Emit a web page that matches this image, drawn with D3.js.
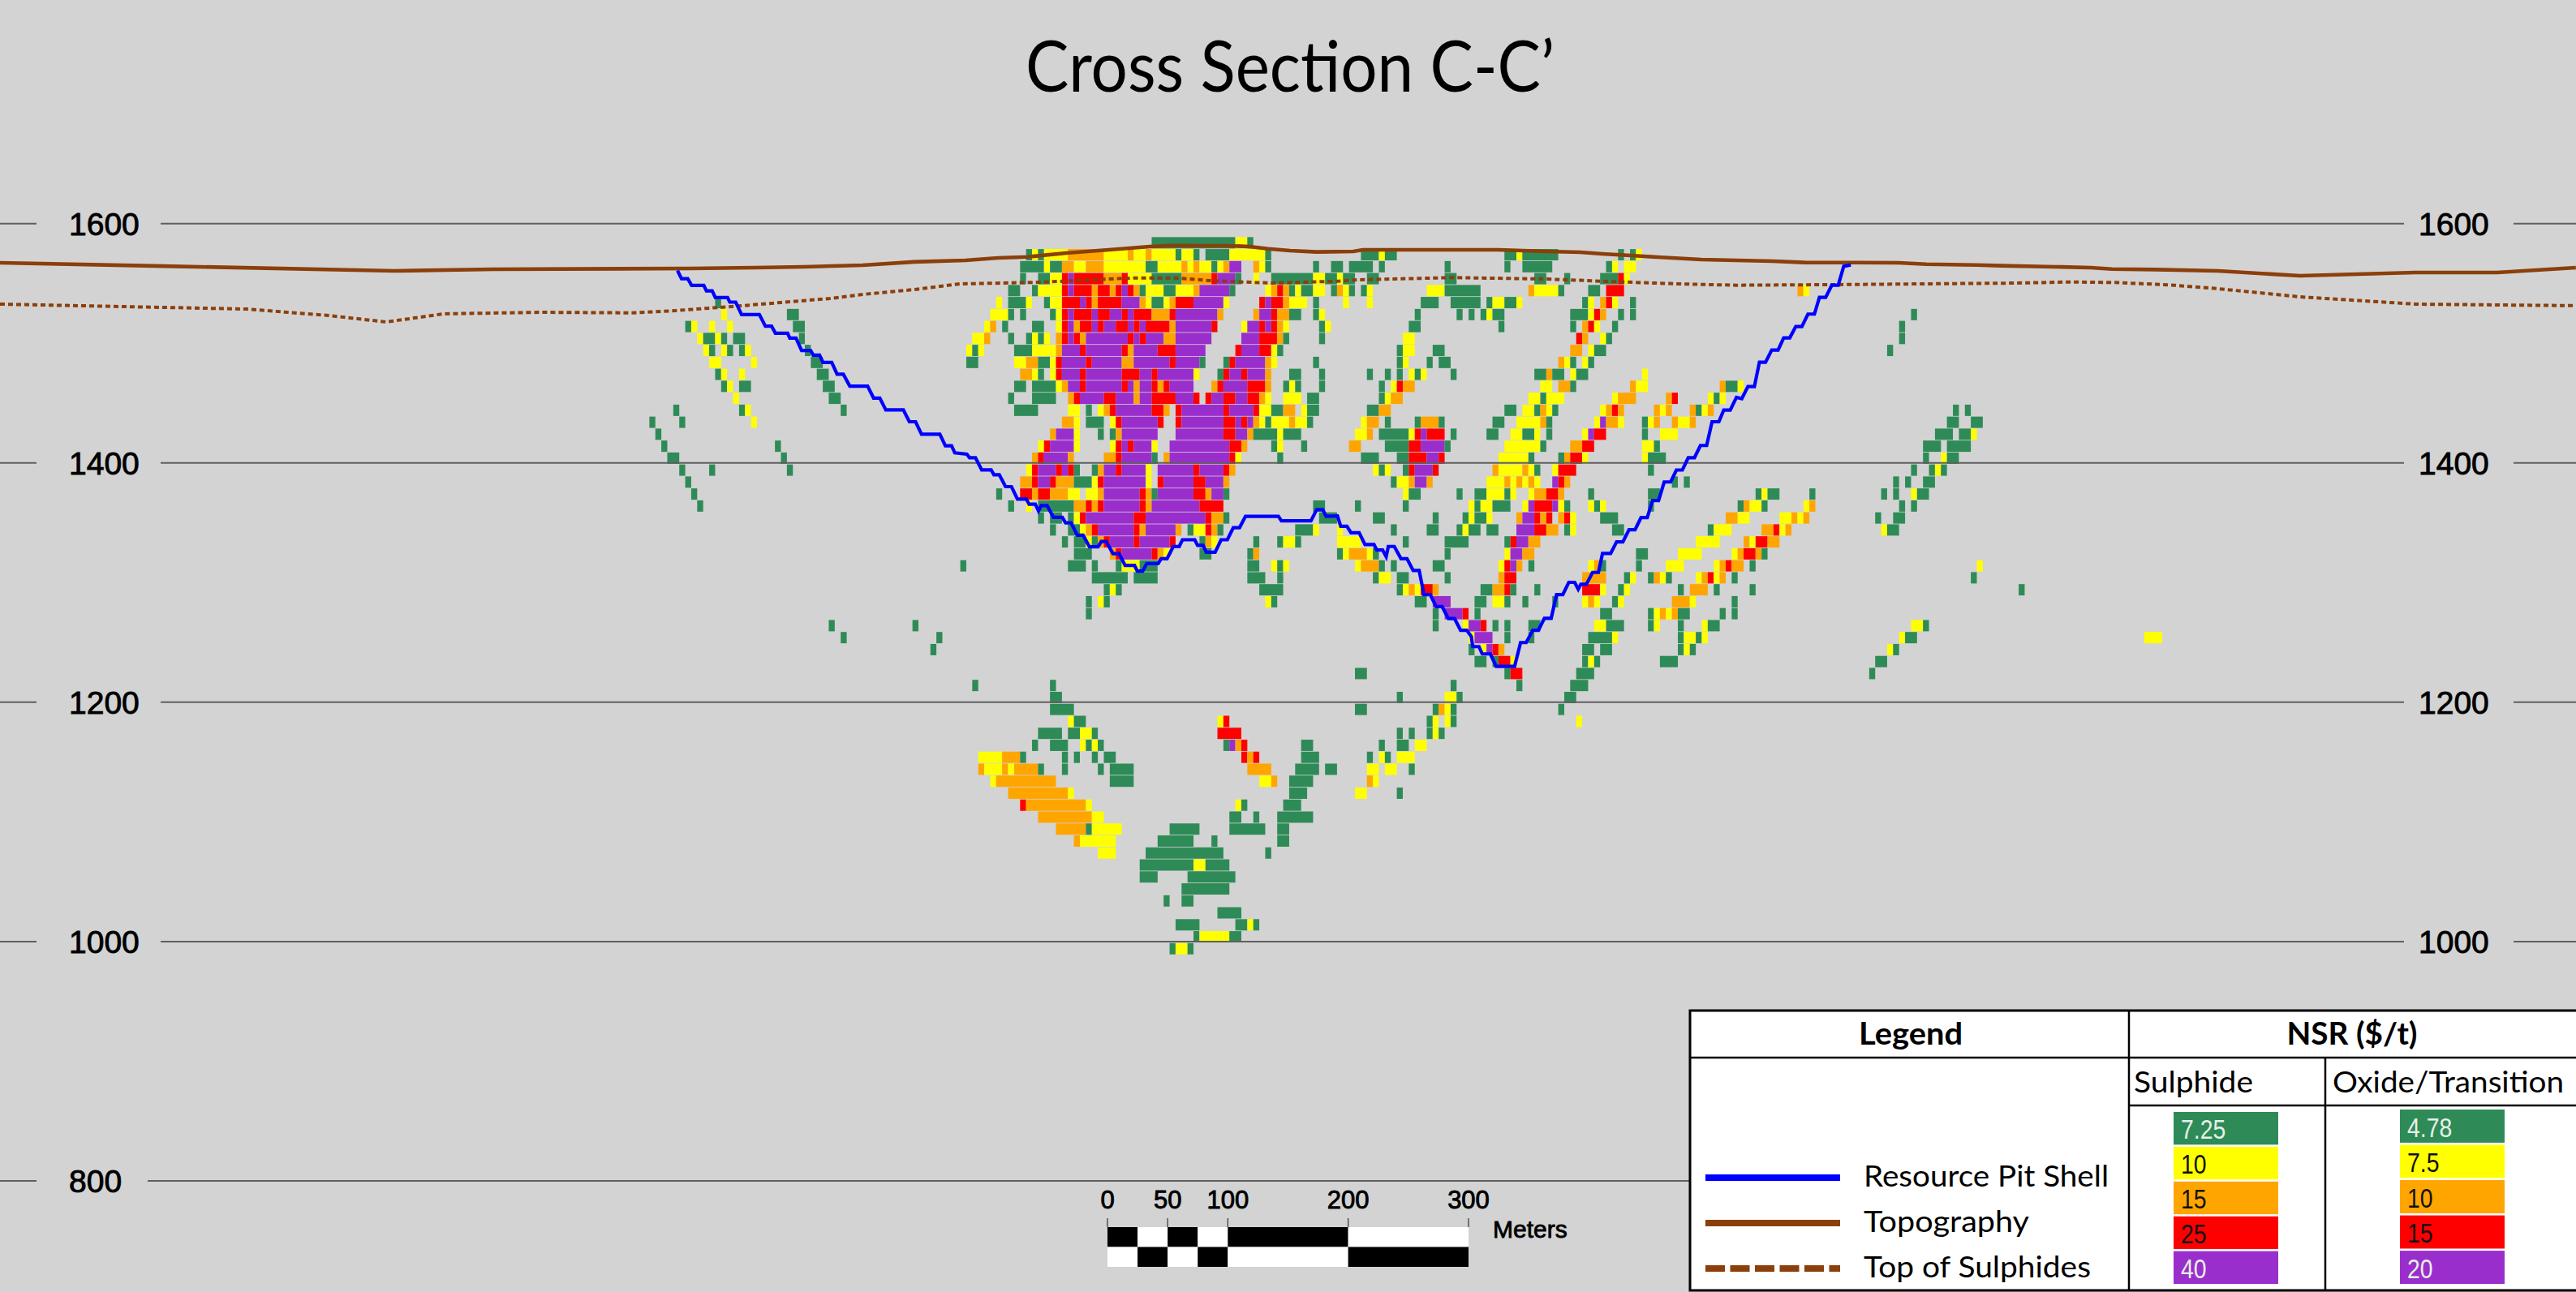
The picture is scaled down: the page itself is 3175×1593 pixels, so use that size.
<!DOCTYPE html>
<html>
<head>
<meta charset="utf-8">
<title>Cross Section C-C'</title>
<script src="https://cdn.jsdelivr.net/npm/d3@7/dist/d3.min.js"></script>
<style>
  body { margin: 0; background: #d3d3d3; }
  svg { display: block; }
</style>
</head>
<body>
<script>
//** Chart values.
var yTicks = [1600, 1400, 1200, 1000, 800];

// ** NSR classes of the block model
var blockClasses = ['G', 'Y', 'O', 'R', 'P'];
var blockColors = ['#2e8b57', '#ffff00', '#ffa500', '#ff0000', '#9a2ecc'];

// ** Blocks are 5 m wide and 10 m high. Each row is [centre elevation, runs],
// ** a run is class + first block + last block along the section.
var blockRows = [
  [1584, 'G192-205 Y206-207 G208'],
  [1574, 'G171 Y172 G173 Y174-177 O178-183 Y184-187 O188 Y189-190 O191 Y192-195 G196 Y197-198 G199 G201-204 Y205-210 G211 G227-229 Y230 G231-232 G251-252 Y253 G254-259 G270 G272 Y273'],
  [1564, 'G170-173 Y174 G175-176 O177-178 Y179-180 O181-183 Y184-190 G191-192 Y193-196 O197 Y198 O199 Y200-201 G202 Y203 O204 P205-206 O209 Y210 G211 G219 G222-223 G225-228 G230 G241 G251 G254-258 G268 Y269 Y271-272'],
  [1554, 'G170 G173-174 Y175-176 R177 P178 R179-183 O184-186 R187 Y188-191 G192-196 O197-201 R202 P203-205 G206 Y209 G212-218 Y219-220 G221-222 Y223 G224-225 G228-229 G241-242 G256-257 G261 G267-269 R270 Y271'],
  [1544, 'G168-169 G172 Y173-176 R177 P178 R179-181 O182 R183-184 O185 R186 P187 R188 O189 G190 Y191-193 G194-195 Y196-198 O199 P200-204 G205 Y211 O212 R213 O214 G215 Y216 G217-218 Y219-220 G222 O223 Y224 G225 G227 Y228 Y238-240 G241-246 O255 Y256-259 G260 G265-266 R268-270 O300 Y301'],
  [1534, 'G119 Y166 G168-170 Y171 G174 Y175-176 R177-179 P180 R181 O182 R183-186 P187-189 O190 Y191 G192-193 Y194 O195 R196-198 P199-203 Y204 R210 P211 R212-213 O214 Y215-217 G219 Y224 Y228 G237-239 G242-246 G248 Y249-250 G251-252 Y253 G264 Y265 O267 R268 Y269 G272'],
  [1524, 'Y120 G131-132 Y165-167 G168 G170 G175 Y176 R177 P178 R179-181 P182 R183-184 P185-186 R187 P188 R189-191 O192-194 R195 P196-202 O203 O209 P210-211 R212 O213-214 G215-216 G219 Y220 G236 G243 G245 G247 Y248 G249-250 G262-264 Y265 R266 O267 G270 G272 G319'],
  [1514, 'G114 Y115 Y118 Y121 G132-133 Y164 O165 G167 G172-173 Y176 R177 P178 O179 R180-181 P182 R183 P184-185 R186-187 P188 R189 P190 R191-194 O195 P196-201 R202 Y207 P208-209 R210 P211 R212 O213 Y214 G220 Y221 G235-236 G250 G262 O264 R265 Y266 G269 G317'],
  [1504, 'Y116 G117-118 Y119 G120 G122-123 G133 Y162-163 O164 G168 G171 Y172 G173 Y174 O176 R177 P178 R179 O180 P181-187 R188 P189 R190 P191-193 O194-195 P196-201 P207-209 R210-212 O213 G214 G220 Y234-235 R263 O264 Y267 G268 G317'],
  [1494, 'Y117 G118 Y120 G121 G123 Y124 G134 Y161 G162 Y163 G169-171 Y172-175 O176 P177-179 R180 P181-186 R187 O188 P189-192 R193-195 P196-200 R206 P207-209 R210-211 Y212 G213 G233 Y234-235 G239-240 O262-263 Y265 G266-267 G315'],
  [1484, 'Y118-119 Y125 G135-136 G161-162 Y169-170 O171-172 G173-174 Y175 R176 P177-180 R181 P182-186 O187-188 P189-194 R195 P196-199 G200 G204 R205 P206-210 O211 Y212 G219 G233 Y234 G238 G240-241 O260 Y261 G262 Y264 G265'],
  [1474, 'G119 Y120 Y123 G136-137 O170-171 Y172 G173 Y175 R176 P177-179 R180 P181-186 R187-189 P190-191 R192 P193-198 Y199 G203 R204 P205-206 R207 P208-210 O211 G215-216 G220 G228 G231 G233 Y235 G236 Y237 G242 G256-257 O258 G259-260 Y262 G263-264 Y274'],
  [1464, 'G120 Y121 G123-124 G137-138 G169-170 G172-175 Y176 O177 P178-179 R180 P181-186 R187 P188 O189 P190-191 R192 O193 R194 P195-198 O202 R203 P204-207 R208-210 O211 G214 Y215 G216 G220 G230 Y232 R233 O234-235 Y257-258 O260-261 G262 O272 Y273-274 O287 G288-289 Y290'],
  [1454, 'Y122 G138-139 G168 G172-175 O178 R179 P180-183 R184-185 P186-188 O189 P190-191 R192-195 P196-198 R199 R201 P202-203 R204-205 P206-207 R208-209 O210 Y211 Y214-216 G218-219 G230 Y231 O232-233 Y255-256 G257 Y258-260 Y269 O270-272 O278 R279 Y285 G286 Y287'],
  [1444, 'G112 G123 Y124 G140 G169-172 Y178-179 G181 Y183 O184 R185 P186-191 R192-193 O194 R196 P197-203 R204 P205-208 R209 Y210-211 G212-213 O214-215 Y217 G218-219 G228-229 O230-231 G251-252 Y254-255 G256 O257 Y258 G259 Y267 O268 R269 O270 O276 Y277 O278 O282 G283 Y284 O285 G326 G328'],
  [1434, 'G108 G113 Y125 O177-178 Y179 G181-183 Y185 R186 P187-192 R193 R196 P197-203 R204-205 P206 R207 P208 O209 Y210 G211 Y212-214 O215 Y216-217 G218 Y227 O228-229 G231 G236 O237-239 G240 G249-250 Y253-256 O257 G258 Y266 P267 O268-269 Y270 G274 Y275 O276 O279 Y280-281 O282 G325-326 G329-330'],
  [1424, 'G109 O175 P176-178 Y179 G183 G185 O186 P187-192 P196-203 R204-205 P206-207 O208 G209-212 Y213 G214-216 Y226-227 O228 G230-234 Y235 R236 P237 R238-240 G242 G248-249 Y252-253 G254-255 Y256 G258 Y264 P265 R266-267 G274 Y277-279 G323-325 G327-328 Y329'],
  [1414, 'G110 G129 Y173 R174 P175-178 Y179 Y185 R186 P187 R188 P189-191 Y192 P195-204 R205-206 O207 G212 Y213 G217 O225-226 G231-234 R235-236 P237-240 G241 Y251-256 G257 O262-263 R264-265 Y274-275 G276 G321-323 G325-328'],
  [1404, 'G111-112 G130 O172 R173 P174-177 O178 O184-185 R186 P187-191 G192 O194 P195-204 R205 Y206 G213 G227-229 G233-234 R235-237 P238-239 R240 Y250-254 G255 G260 O261 R262-263 Y264 Y274 G275-277 G321 Y324 G325-326'],
  [1394, 'G113 G118 G131 Y171 R172 P173-175 R176 P177 R178 G179 G182 O183 P184-185 R186 P187-190 Y191 P193-198 R199 P200-203 R204 O205 Y229 G230 Y231 G234 R235 P236-238 R239 O249 Y250-253 O254 Y255 G256 Y259 R260-262 G275 G319 G322 Y323 G324'],
  [1384, 'G114 O170-171 R172 P173-174 R175 O176-178 G179-181 Y182 R183 P184-190 Y191 R193 P194-198 R199-200 P201-203 O204 G232 Y233-234 O235 P236-237 O238 Y248-250 O251 Y252 O253 Y254 O255 Y256 P259 R260 O261 G279 G281 G316 G318 G321-322'],
  [1374, 'G115 G166 R170-171 O172 R173-174 O175-177 Y178-179 Y181-182 O183 P184-189 R190 O191 G192 P193-198 R199-200 O201 P202-203 G204 Y234 G235-236 G243 G246-247 Y248-250 G251 Y252 Y255 O256-257 R258-259 O260 G265 G275-276 G293 Y294 G295-296 G302 G314 G316 Y319 G320-321'],
  [1364, 'G116 G168 Y171 G173-178 O179-180 R181 O182 R183 P184-189 R190 O191 P192-199 R200-203 G219-220 G226 G234 Y245 G246 Y247-248 G249-251 Y254 P255 R256-258 P259 Y260 G261 Y265 G266 Y267 G275 G290 O291 Y292-293 G294 Y301 O302 G317 G319'],
  [1354, 'G173 G175-176 G178 Y179 R180 P181-188 R189-190 P191-200 R201 O202-203 G204 G220-222 G229-230 G239 G244 Y245 G246-247 Y248 O253 P254-255 R256 O257 R258 O260 R261 Y262 G267-269 O288-289 Y290-291 Y297-298 O299 Y300 O301 G313 G316-317'],
  [1344, 'G175 G178-179 Y180 O181 R182 P183-188 R189 O190 P191-195 O196 G198 Y199-200 R201 O202 G203 G216-218 Y219 Y223 G232 G238-239 G243 Y244 G245-246 G248-249 P253-255 R256-257 O258-259 G261 Y262 G269-270 G285 Y286-288 O294-295 R296 Y297 O298 Y314 G315-316'],
  [1334, 'G177 G179-180 Y181 G182 O183 R184 P185-188 R189 P190-194 R195 G200 O201 Y202 G209 G213 Y214-215 G216 Y223-226 G234 G241-244 G251 R252 P253-254 O255-256 Y283-286 O291 Y292 R293-294 O295-296'],
  [1324, 'G179-181 O185 R186 P187-191 R192 O193 Y194 G200-201 G208 O209 G223 Y224 O225-227 Y228 G229 G241 Y251 P252-253 O254-255 G273-274 Y280-283 Y289 O290 R291-292 O293 G294'],
  [1314, 'G160 G178-180 G182 G186 Y187-189 G190-192 G208-209 Y212 G213 Y214 Y226 O227-229 G230 G232 G239-240 Y250 R251 P252 O253 G255 Y265 O266 G267 G273 Y278-280 Y286 O287 R288 O289-290 G292 Y330'],
  [1304, 'G182-187 G189-192 G208-210 G213 G229 Y230-231 G233-234 G241 O250 R251-252 O264-267 G271 Y272 G275 O276 Y277 G278 Y283 O284 R285 Y286 O287 G289 G329'],
  [1294, 'G184 Y185 G186 G210-213 G233 Y234 O235 Y236 R237-238 O239 G247-248 O249-250 R251 G252 G256 R264-266 Y267 G270 Y271 G280 O282-284 G286 G292 G337'],
  [1284, 'G181 Y183 G184 Y211 G212 G236-237 P239-241 G246-247 Y249-250 G251 G254 G259 Y264 O265 Y266 G269 Y270 O279-281 Y282 G289'],
  [1274, 'G181 G239 P241-243 R244 G246 G267-268 G275 Y276 O277 Y278 O279 G280-281 G287 G289'],
  [1264, 'G138 G152 G239 Y244 P245-246 R247 G249 G251 G255-256 Y266-267 G268-270 G275 Y276 G280 Y284 G285-286 Y319-320 G321'],
  [1254, 'G140 G156 Y245 P246-248 G251 G255 G265-268 Y269 G280 Y281-282 G283 Y284 Y317 G318-319 Y358-360'],
  [1244, 'G155 G245 Y247 P248 R249 O250 G264-265 G267-268 G280 Y281 G282 Y315 G316'],
  [1234, 'G246-247 G249 R250-251 Y252 G264 Y265 G266 G277-279 G313-314'],
  [1224, 'G226-227 G251 R252-253 G263-265 G312'],
  [1214, 'G162 G175 G242 G253 G262-264'],
  [1204, 'G175-176 G233 Y241-242 G243 G261-262'],
  [1194, 'G175-178 G226-227 G239 O240 Y241 G242 G260'],
  [1184, 'Y178 G179-180 Y203 R204 G238 Y239 Y241 G242 Y263'],
  [1174, 'G173-176 G178-179 Y180-181 G182 R203-206 G233 G235 G238 Y239 G240'],
  [1164, 'G172 G175-177 Y180 G181 Y182 G183 G204 P205 O206 R207 G217-218 G230 G233-234 Y236-237'],
  [1154, 'Y163-166 O167-169 G170 G177 G179 G182 G184-185 R207 O208 R209 G217-219 G228 Y230 G231 Y233-235'],
  [1144, 'O163 Y164-166 O167 Y168 O169-172 G173 G177 G183 G185-188 O208-211 G216-219 G221-222 Y228-229 Y231-232 G235'],
  [1134, 'Y165 O166-175 G185-188 Y210-211 O212 G215-218 O228 Y229'],
  [1124, 'O168-177 Y178 G215-217 Y226-227 G233'],
  [1114, 'R170 O171-180 Y181 Y206 G207 G214-216'],
  [1104, 'O173-181 Y182-183 G205-206 G209 G213-218'],
  [1094, 'O176-180 G181 Y182-186 G195-199 G205-210 G213-214'],
  [1084, 'O179 Y180-185 G193-198 G202 G213-214'],
  [1074, 'Y183-185 G191-203 G211'],
  [1064, 'G190-198 Y199-200 G201-204'],
  [1054, 'G190-192 G198-205'],
  [1044, 'G197-204'],
  [1034, 'G194 G197-198'],
  [1024, 'G203-206'],
  [1014, 'G196-199 G206-207 Y208 G209'],
  [1004, 'G199 Y200-204 G205-206'],
  [994, 'G195 Y196-197 G198']
];

// ** Lines: [metres along section, elevation]
var topography = [
  [-3,1567.3],[134,1564.5],[327,1560.5],[409.5,1561.8],[573.7,1562.5],[628,1563.2],[669,1563.9],[718.2,1565.2],
  [761.6,1568],[804.3,1569.3],[831.4,1571.3],[856.5,1572.2],[890.5,1575.6],[926.4,1578.3],[958.3,1580.8],[975.9,1581.7],
  [1023.4,1581.5],[1041.8,1580.8],[1057.3,1579],[1075.7,1577.4],[1098,1576.3],[1128.6,1576.8],[1136.7,1578.1],[1194.4,1578.1],
  [1250,1578.1],[1290.7,1576.8],[1318.5,1576.1],[1336.8,1574.7],[1360.6,1573.4],[1382.9,1572],[1419.6,1570],[1448.8,1569.3],
  [1479.3,1568.6],[1505.8,1567.5],[1584.5,1567.3],[1607.6,1566.1],[1649.6,1565.4],[1670.6,1564.8],[1715.4,1563.9],[1745.3,1563.2],
  [1762.9,1562],[1799.6,1561.6],[1851.8,1560.5],[1920.3,1556.4],[2016.7,1559.1],[2085.2,1559.1],[2150.9,1563.2]
];

var topOfSulphides = [
  [-3,1532.7],[203.2,1528.6],[271.8,1523.2],[320,1517.8],[368.1,1524.6],[450.2,1525.9],[526.2,1525.4],[562.1,1527.3],
  [616.4,1531.3],[650.3,1534.1],[691,1537.4],[718.2,1540.8],[761.6,1544.9],[799.6,1549.6],[867.4,1551],[944.7,1554.6],
  [980.7,1554.6],[1007.8,1552.4],[1060,1550.3],[1116.4,1551.9],[1132,1553],[1211.3,1554.9],[1290.7,1553.7],[1335.5,1551.9],
  [1401.3,1549.6],[1448.8,1548.5],[1530.2,1549],[1682.1,1550.3],[1726.9,1551.2],[1766.3,1550.8],[1815.1,1548.5],[1851.8,1545.6],
  [1920.3,1538.8],[2016.7,1532.7],[2150.9,1531.4]
];

var pitShell = [
  [563.5,1560.8],[566.9,1554],[572.1,1554],[575.3,1548.4],[585.5,1548.4],[587.7,1543.8],[592.5,1543.8],[595.2,1538.2],
  [605.4,1538.2],[607.2,1534.4],[612.2,1534.4],[617.1,1524],[632,1524],[637,1514.3],[642.2,1514.3],[645.4,1508.4],
  [655.6,1508.4],[657.4,1504.3],[662.6,1504.3],[667.3,1494],[674.8,1494],[677.1,1490.1],[682.3,1490.1],[685.2,1484],
  [692.5,1484],[697,1474.1],[702.2,1474.1],[707.6,1464.2],[722.5,1464.2],[727.5,1454.2],[732.7,1454.2],[737.7,1444.3],
  [752.4,1444.3],[757.4,1434.4],[762.6,1434.4],[767.6,1424],[782.9,1424],[787.5,1414.3],[792.7,1414.3],[795.4,1408.4],
  [805.5,1407.3],[807.7,1404.4],[812.7,1404.4],[817.9,1394.2],[825.8,1394.2],[828.1,1390.1],[832.6,1390.1],[837.8,1380.2],
  [842.8,1380.2],[847.8,1369.8],[855.2,1369.8],[857.5,1365.5],[862.7,1365.5],[865.4,1359.9],[867.7,1364.4],[872.6,1364.4],
  [877.9,1354.5],[885.3,1354.5],[888,1350],[892.6,1350],[897.8,1339.6],[902.7,1339.6],[908,1329.9],[915.2,1329.9],
  [917.9,1334.4],[922,1334.4],[927.6,1324.2],[932.8,1324.2],[937.8,1314.3],[945.7,1314.3],[948,1309.6],[952.5,1309.6],
  [955.9,1315.9],[965.4,1315.9],[967.9,1320],[972.9,1320],[978.1,1330.1],[983,1330.1],[985.8,1335.8],[996,1335.8],
  [998.4,1331.2],[1003,1331.2],[1005.7,1325.4],[1013.1,1325.4],[1018.1,1335.8],[1023.3,1335.8],[1028.3,1345.9],[1033.5,1345.9],
  [1038.5,1355.4],[1066,1355.4],[1068.5,1351.6],[1093.2,1351.6],[1098,1361],[1103,1361],[1105.9,1355.4],[1115.4,1355.7],
  [1118.1,1347.1],[1123.3,1347.1],[1126.7,1341.7],[1133.5,1341.7],[1138.4,1331.8],[1145.9,1331.8],[1148.2,1327.3],[1153.1,1327.3],
  [1156.1,1321.6],[1157.9,1330.2],[1162.9,1330.2],[1168.5,1320],[1173.5,1320],[1178.7,1310.1],[1183.7,1310.1],[1187.7,1290],
  [1192.9,1290],[1197.9,1279.9],[1202.9,1279.9],[1208.1,1269.9],[1213.3,1269.9],[1218.3,1260.2],[1223.5,1260.2],[1227.3,1255],
  [1228.5,1246.5],[1233.7,1246.5],[1236.4,1240.4],[1243.2,1240.4],[1248.1,1230],[1263.5,1230],[1268.5,1249.9],[1273.2,1249.9],
  [1278.7,1260.2],[1283.4,1260.2],[1288.4,1270.2],[1294.1,1270.2],[1298.6,1290],[1303.8,1290],[1308.8,1300.2],[1313.7,1300.2],
  [1316.7,1294.5],[1318.9,1298.6],[1323.5,1298.6],[1328.7,1308.5],[1333.6,1308.5],[1337,1324.3],[1343.8,1324.3],[1348.8,1334],
  [1354,1334],[1359.2,1344.2],[1364.2,1344.2],[1369.2,1354.3],[1374.4,1354.3],[1378.9,1368.6],[1383.9,1368.6],[1388.6,1384.1],
  [1394,1384.1],[1398.8,1394.1],[1403.8,1394.1],[1408.7,1404.4],[1413.9,1404.4],[1418.9,1414.6],[1424.1,1414.6],[1428.6,1434.4],
  [1434.3,1434.4],[1438.4,1444.2],[1443.8,1444.2],[1449,1454.8],[1453.5,1453.7],[1458.6,1463.8],[1464,1463.8],[1468.2,1484.1],
  [1473.3,1484.1],[1478.5,1494.3],[1483.8,1494.3],[1488.5,1504.5],[1493.6,1504.5],[1498.6,1514],[1503.7,1514],[1508.8,1524.4],
  [1514.2,1524.4],[1518.4,1538.4],[1523.6,1538.4],[1528.7,1548.5],[1534.1,1548.5],[1538.7,1564.3],[1544.6,1565.5]
];

// ** Legend and scale bar values
var lineNames = ['Resource Pit Shell', 'Topography', 'Top of Sulphides'];
var sulphideLabels = ['7.25', '10', '15', '25', '40'];
var oxideLabels = ['4.78', '7.5', '10', '15', '20'];
var scaleBreaks = [0, 25, 50, 75, 100, 200, 300];
var scaleLabels = [0, 50, 100, 200, 300];

var width = 3175, height = 1593;
var brown = '#8b3f0a';

var svg = d3.select('body').append('svg')
    .attr('width', width)
    .attr('height', height)
    .style('font-family', '"Liberation Sans", Arial, sans-serif');

svg.append('rect').attr('width', width).attr('height', height).attr('fill', '#d3d3d3');

var x = d3.scaleLinear().domain([0, 2150]).range([4.4, 4.4 + 2150 * 1.474]);
var y = d3.scaleLinear().domain([1600, 800]).range([275.7, 1456]);
var color = d3.scaleOrdinal().domain(blockClasses).range(blockColors);

//** Title
svg.append('text')
    .attr('x', 1590).attr('y', 113)
    .attr('text-anchor', 'middle')
    .attr('textLength', 652).attr('lengthAdjust', 'spacingAndGlyphs')
    .style('font-family', 'Lato')
    .style('font-size', '88px')
    .text('Cross Section C-C\u2019');

//** Unpack the rows into runs of blocks
var blocks = [];
blockRows.forEach(function(row){
  row[1].split(' ').forEach(function(run){
    var ends = run.slice(1).split('-');
    var first = +ends[0];
    var last = ends.length > 1 ? +ends[1] : first;
    blocks.push({cls: run[0], z: row[0], from: first * 5, to: (last + 1) * 5});
  });
});

svg.append('g').selectAll('rect')
    .data(blocks)
  .enter().append('rect')
    .attr('x', function(d){ return x(d.from); })
    .attr('y', function(d){ return y(d.z + 5) + 0.4; })
    .attr('width', function(d){ return x(d.to) - x(d.from); })
    .attr('height', function(d){ return y(d.z - 5) - y(d.z + 5) - 0.8; })
    .attr('fill', function(d){ return color(d.cls); });

//** Elevation grid lines and labels
var grid = svg.append('g').selectAll('g')
    .data(yTicks)
  .enter().append('g')
    .attr('transform', function(d){ return 'translate(0,' + y(d) + ')'; });

grid.append('line')
    .attr('x1', 0).attr('x2', 45)
    .attr('stroke', '#5f5f5f').attr('stroke-width', 2);

grid.append('line')
    .attr('x1', function(d){ return d === 800 ? 182 : 198; })
    .attr('x2', function(d){ return d === 800 ? 2082 : 2963; })
    .attr('stroke', '#5f5f5f').attr('stroke-width', 2);

grid.filter(function(d){ return d !== 800; }).append('line')
    .attr('x1', 3098).attr('x2', width)
    .attr('stroke', '#5f5f5f').attr('stroke-width', 2);

grid.append('text')
    .attr('x', 85).attr('dy', 14)
    .style('font-size', '39px')
    .style('stroke', '#000').style('stroke-width', 0.9)
    .text(function(d){ return d; });

grid.filter(function(d){ return d !== 800; }).append('text')
    .attr('x', 2981).attr('dy', 14)
    .style('font-size', '39px')
    .style('stroke', '#000').style('stroke-width', 0.9)
    .text(function(d){ return d; });

//** Section lines
var line = d3.line()
    .x(function(d){ return x(d[0]); })
    .y(function(d){ return y(d[1]); });

svg.append('path').datum(topOfSulphides)
    .attr('d', line).attr('fill', 'none')
    .attr('stroke', brown).attr('stroke-width', 4)
    .attr('stroke-dasharray', '6,4');

svg.append('path').datum(topography)
    .attr('d', line).attr('fill', 'none')
    .attr('stroke', brown).attr('stroke-width', 4.6);

svg.append('path').datum(pitShell)
    .attr('d', line).attr('fill', 'none')
    .attr('stroke', '#0000ff').attr('stroke-width', 4.2);

//** Scale bar
var barX = d3.scaleLinear().domain([0, 300]).range([1365, 1810]);
var bar = svg.append('g');

bar.selectAll('rect.top')
    .data(d3.pairs(scaleBreaks))
  .enter().append('rect')
    .attr('x', function(d){ return barX(d[0]); })
    .attr('y', 1513)
    .attr('width', function(d){ return barX(d[1]) - barX(d[0]); })
    .attr('height', 24.5)
    .attr('fill', function(d, i){ return i % 2 ? '#fff' : '#000'; });

bar.selectAll('rect.bottom')
    .data(d3.pairs(scaleBreaks))
  .enter().append('rect')
    .attr('x', function(d){ return barX(d[0]); })
    .attr('y', 1537.5)
    .attr('width', function(d){ return barX(d[1]) - barX(d[0]); })
    .attr('height', 24.5)
    .attr('fill', function(d, i){ return i % 2 ? '#000' : '#fff'; });

bar.selectAll('line')
    .data(scaleLabels)
  .enter().append('line')
    .attr('x1', barX).attr('x2', barX)
    .attr('y1', 1502).attr('y2', 1513)
    .attr('stroke', '#333').attr('stroke-width', 1.2);

bar.selectAll('text.tick')
    .data(scaleLabels)
  .enter().append('text')
    .attr('x', barX).attr('y', 1490)
    .attr('text-anchor', 'middle')
    .style('font-size', '31px')
    .style('stroke', '#000').style('stroke-width', 0.9)
    .text(function(d){ return d; });

bar.append('text')
    .attr('x', 1840).attr('y', 1526)
    .style('font-size', '30px')
    .style('stroke', '#000').style('stroke-width', 0.8)
    .text('Meters');

//** Legend table
var legend = svg.append('g');

legend.append('rect')
    .attr('x', 2083).attr('y', 1246)
    .attr('width', 1094).attr('height', 345)
    .attr('fill', '#fff').attr('stroke', '#000').attr('stroke-width', 3);

var rules = [
  [2083, 2624, 1304, 1304], [2624, width, 1304, 1304], [2624, width, 1363, 1363],
  [2624, 2624, 1246, 1591], [2866, 2866, 1304, 1591]
];
legend.selectAll('line.rule')
    .data(rules)
  .enter().append('line')
    .attr('x1', function(d){ return d[0]; }).attr('x2', function(d){ return d[1]; })
    .attr('y1', function(d){ return d[2]; }).attr('y2', function(d){ return d[3]; })
    .attr('stroke', '#000').attr('stroke-width', 2.5);

var tableText = legend.append('g').style('font-family', 'Lato').style('fill', '#000');

tableText.append('text').attr('x', 2355).attr('y', 1288).attr('text-anchor', 'middle')
    .attr('textLength', 128).attr('lengthAdjust', 'spacingAndGlyphs')
    .style('font-size', '38px').style('font-weight', 700).text('Legend');
tableText.append('text').attr('x', 2899).attr('y', 1288).attr('text-anchor', 'middle')
    .attr('textLength', 161).attr('lengthAdjust', 'spacingAndGlyphs')
    .style('font-size', '38px').style('font-weight', 700).text('NSR ($/t)');
tableText.append('text').attr('x', 2630).attr('y', 1347)
    .attr('textLength', 147).attr('lengthAdjust', 'spacingAndGlyphs')
    .style('font-size', '37px').text('Sulphide');
tableText.append('text').attr('x', 2875).attr('y', 1347)
    .attr('textLength', 285).attr('lengthAdjust', 'spacingAndGlyphs')
    .style('font-size', '37px').text('Oxide/Transition');

var nameY = d3.scalePoint().domain(lineNames).range([1463, 1575]);
var nameWidths = [302, 204, 280];
tableText.selectAll('text.name')
    .data(lineNames)
  .enter().append('text')
    .attr('x', 2297)
    .attr('y', function(d){ return nameY(d); })
    .attr('textLength', function(d, i){ return nameWidths[i]; })
    .attr('lengthAdjust', 'spacingAndGlyphs')
    .style('font-size', '37px')
    .text(function(d){ return d; });

var keyStyle = [['#0000ff', null], [brown, null], [brown, '24,6.5']];
legend.selectAll('line.key')
    .data(lineNames)
  .enter().append('line')
    .attr('x1', 2102).attr('x2', 2268)
    .attr('y1', function(d){ return nameY(d) - 11; })
    .attr('y2', function(d){ return nameY(d) - 11; })
    .attr('stroke', function(d, i){ return keyStyle[i][0]; })
    .attr('stroke-width', 8)
    .attr('stroke-dasharray', function(d, i){ return keyStyle[i][1]; });

//** Colour keys, one column per rock type
var drawSwatches = function(labels, left, top){
  var band = d3.scaleBand().domain(d3.range(labels.length)).range([top, 1583]).paddingInner(0.06);
  var key = legend.append('g');
  key.selectAll('rect')
      .data(labels)
    .enter().append('rect')
      .attr('x', left).attr('width', 129)
      .attr('y', function(d, i){ return band(i); })
      .attr('height', band.bandwidth())
      .attr('fill', function(d, i){ return blockColors[i]; });
  key.selectAll('text')
      .data(labels)
    .enter().append('text')
      .attr('transform', function(d, i){
        return 'translate(' + (left + 9) + ',' + (band(i) + band.bandwidth() - 7) + ') scale(0.86,1)';
      })
      .style('font-size', '33px')
      .style('fill', function(d, i){ return (i === 0 || i === 4) ? '#e8f0e8' : '#111'; })
      .text(function(d){ return d; });
};

drawSwatches(sulphideLabels, 2679, 1371);
drawSwatches(oxideLabels, 2958, 1368);
</script>
</body>
</html>
